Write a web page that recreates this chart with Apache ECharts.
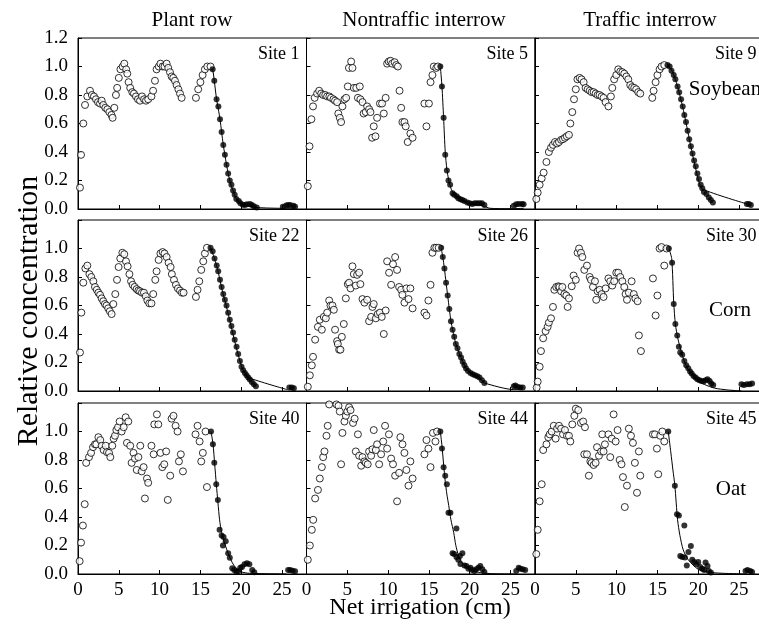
<!DOCTYPE html>
<html>
<head>
<meta charset="utf-8">
<script src="https://cdn.jsdelivr.net/npm/echarts@6/dist/echarts.min.js"></script>
<style>html,body{margin:0;padding:0;background:#fff;}#c{width:759px;height:631px;}</style>
</head>
<body>
<div id="c"></div>
<script>
// ---------- DATA ----------
const columnTitles = ['Plant row', 'Nontraffic interrow', 'Traffic interrow'];
const cropLabels = ['Soybean', 'Corn', 'Oat'];
const siteNames = ['Site 1','Site 5','Site 9','Site 22','Site 26','Site 30','Site 40','Site 44','Site 45'];
const xTicks = [0, 5, 10, 15, 20, 25];
const yTicks = [0.0, 0.2, 0.4, 0.6, 0.8, 1.0, 1.2];

const site1Open = [[0.24,0.15],[0.37,0.38],[0.65,0.60],[0.86,0.73],[1.14,0.79],[1.47,0.83],[1.7,0.80],[1.96,0.79],[2.2,0.77],[2.45,0.75],[2.7,0.74],[2.9,0.76],[3.1,0.73],[3.35,0.71],[3.6,0.70],[3.84,0.68],[4.1,0.66],[4.24,0.64],[4.45,0.71],[4.65,0.80],[4.8,0.85],[5.0,0.92],[5.2,0.98],[5.47,1.0],[5.67,1.02],[5.9,0.98],[6.04,0.95],[6.2,0.89],[6.4,0.85],[6.65,0.82],[6.86,0.81],[7.1,0.79],[7.35,0.77],[7.6,0.76],[7.84,0.79],[8.1,0.77],[8.33,0.76],[8.6,0.77],[9.0,0.79],[9.2,0.83],[9.43,0.90],[9.63,0.98],[9.9,1.0],[10.1,1.02],[10.37,1.0],[10.6,1.0],[10.86,1.02],[11.06,0.99],[11.27,0.96],[11.47,0.93],[11.67,0.92],[11.88,0.90],[12.08,0.87],[12.3,0.84],[12.5,0.81],[12.7,0.78],[14.45,0.78],[14.73,0.84],[15.0,0.89],[15.27,0.94],[15.55,0.98],[15.84,1.0],[16.24,1.0]];
const site1Filled = [[16.5,0.98],[16.7,0.90],[16.98,0.77],[17.2,0.72],[17.4,0.63],[17.6,0.54],[17.8,0.45],[18.0,0.38],[18.2,0.31],[18.4,0.25],[18.6,0.20],[18.8,0.17],[19.0,0.13],[19.2,0.10],[19.4,0.07],[19.7,0.056],[19.9,0.04],[20.2,0.03],[20.45,0.028],[20.7,0.033],[21.06,0.035],[21.3,0.028],[21.55,0.02],[21.9,0.01],[25.1,0.016],[25.5,0.025],[25.75,0.028],[26.0,0.028],[26.4,0.023],[26.6,0.016]];
const site1Fit = [[16.3,1.0],[16.5,0.98],[16.7,0.90],[16.98,0.77],[17.2,0.70],[17.4,0.63],[17.6,0.54],[17.8,0.45],[18.0,0.38],[18.2,0.31],[18.4,0.25],[18.6,0.20],[18.8,0.16],[19.0,0.13],[19.2,0.10],[19.4,0.07],[19.7,0.05],[20.2,0.03],[21.0,0.02],[22.0,0.01],[25.0,0.005],[26.6,0.005]];

const site5Open = [[0.16,0.16],[0.37,0.44],[0.6,0.63],[0.8,0.72],[1.0,0.78],[1.3,0.81],[1.55,0.83],[1.8,0.81],[2.04,0.80],[2.3,0.80],[2.53,0.79],[2.8,0.79],[3.0,0.78],[3.3,0.77],[3.5,0.76],[3.75,0.75],[3.9,0.67],[4.08,0.64],[4.24,0.61],[4.4,0.72],[4.65,0.77],[4.86,0.78],[5.06,0.86],[5.2,0.99],[5.47,1.035],[5.63,0.99],[5.8,0.85],[6.1,0.85],[6.3,0.78],[6.53,0.86],[6.6,0.77],[6.86,0.75],[7.0,0.67],[7.26,0.68],[7.43,0.72],[7.67,0.70],[7.84,0.68],[8.04,0.50],[8.24,0.58],[8.45,0.51],[8.65,0.64],[9.0,0.74],[9.26,0.74],[9.47,0.67],[9.7,0.78],[9.88,1.02],[10.08,1.035],[10.3,1.04],[10.5,1.02],[10.8,1.03],[11.0,1.01],[11.2,1.0],[11.4,0.83],[11.6,0.71],[11.75,0.61],[12.0,0.61],[12.16,0.58],[12.4,0.47],[12.73,0.53],[13.0,0.50],[14.45,0.74],[14.7,0.58],[15.0,0.74],[15.2,0.89],[15.43,0.94],[15.6,1.0],[15.9,0.99],[16.1,1.0]];
const site5Filled = [[16.4,1.0],[16.6,0.86],[16.8,0.64],[17.0,0.38],[17.2,0.27],[17.4,0.20],[17.6,0.17],[17.9,0.11],[18.1,0.10],[18.4,0.09],[18.6,0.075],[18.86,0.068],[19.1,0.063],[19.35,0.056],[19.7,0.045],[20.0,0.04],[20.3,0.035],[20.6,0.04],[20.9,0.04],[21.2,0.04],[21.5,0.04],[21.8,0.028],[25.4,0.023],[25.7,0.033],[26.0,0.035],[26.4,0.035],[26.6,0.033]];
const site5Fit = [[16.4,1.0],[16.6,0.86],[16.8,0.64],[17.0,0.40],[17.2,0.28],[17.4,0.21],[17.6,0.16],[17.9,0.12],[18.4,0.09],[18.9,0.07],[19.5,0.05],[20.3,0.035],[21.5,0.025],[22.5,0.005],[25.0,0.002],[26.6,0.005]];

const site9Open = [[0.16,0.07],[0.33,0.115],[0.57,0.17],[0.82,0.215],[1.06,0.255],[1.4,0.33],[1.7,0.40],[1.96,0.43],[2.2,0.45],[2.45,0.47],[2.7,0.46],[2.94,0.47],[3.2,0.485],[3.43,0.49],[3.67,0.50],[3.9,0.51],[4.16,0.52],[4.33,0.60],[4.57,0.68],[4.78,0.77],[5.0,0.84],[5.2,0.91],[5.47,0.92],[5.7,0.91],[5.96,0.89],[6.2,0.85],[6.45,0.84],[6.7,0.83],[6.94,0.82],[7.18,0.82],[7.43,0.81],[7.67,0.80],[7.9,0.80],[8.16,0.79],[8.4,0.78],[8.65,0.75],[9.0,0.72],[9.3,0.79],[9.47,0.85],[9.7,0.91],[9.96,0.94],[10.2,0.98],[10.45,0.965],[10.7,0.96],[10.94,0.95],[11.2,0.93],[11.43,0.91],[11.67,0.87],[11.9,0.855],[12.16,0.85],[12.4,0.84],[12.65,0.82],[12.9,0.81],[14.37,0.78],[14.53,0.83],[14.78,0.89],[15.0,0.94],[15.27,0.98],[15.5,1.0],[15.84,1.01]];
const site9Filled = [[16.24,1.01],[16.5,1.0],[16.73,0.97],[17.0,0.94],[17.2,0.91],[17.47,0.86],[17.67,0.82],[17.9,0.77],[18.1,0.72],[18.3,0.66],[18.5,0.61],[18.7,0.55],[18.9,0.49],[19.1,0.44],[19.3,0.39],[19.5,0.34],[19.7,0.30],[19.9,0.25],[20.1,0.21],[20.3,0.17],[20.5,0.145],[20.7,0.12],[21.0,0.105],[21.3,0.08],[21.55,0.063],[21.8,0.045],[25.96,0.035],[26.2,0.035],[26.45,0.028]];
const site9Fit = [[16.24,1.01],[16.7,0.98],[17.2,0.91],[17.7,0.81],[18.2,0.69],[18.7,0.55],[19.2,0.41],[19.7,0.28],[20.1,0.19],[20.5,0.14],[26.0,0.035]];

const site22Open = [[0.24,0.27],[0.41,0.55],[0.65,0.76],[0.9,0.86],[1.14,0.88],[1.4,0.82],[1.63,0.80],[1.88,0.77],[2.08,0.73],[2.3,0.71],[2.5,0.69],[2.7,0.675],[2.9,0.65],[3.1,0.63],[3.3,0.61],[3.5,0.60],[3.7,0.58],[3.9,0.56],[4.12,0.54],[4.33,0.61],[4.57,0.68],[4.78,0.78],[4.98,0.87],[5.18,0.93],[5.43,0.97],[5.67,0.96],[5.88,0.91],[6.08,0.875],[6.3,0.82],[6.5,0.77],[6.7,0.745],[6.94,0.73],[7.18,0.715],[7.4,0.705],[7.6,0.70],[7.84,0.69],[8.08,0.69],[8.3,0.665],[8.5,0.635],[8.73,0.615],[9.0,0.615],[9.22,0.68],[9.47,0.78],[9.63,0.84],[9.88,0.92],[10.1,0.965],[10.37,0.975],[10.6,0.965],[10.86,0.94],[11.1,0.90],[11.35,0.87],[11.5,0.82],[11.76,0.78],[12.0,0.745],[12.24,0.72],[12.5,0.705],[12.73,0.69],[12.94,0.69],[14.45,0.66],[14.65,0.71],[14.86,0.77],[15.1,0.85],[15.35,0.91],[15.55,0.965],[15.8,1.005]];
const site22Filled = [[16.24,1.005],[16.5,0.98],[16.73,0.93],[17.0,0.88],[17.18,0.84],[17.4,0.78],[17.6,0.73],[17.8,0.68],[18.0,0.64],[18.2,0.60],[18.4,0.55],[18.6,0.50],[18.8,0.456],[19.0,0.41],[19.2,0.36],[19.43,0.31],[19.63,0.26],[19.84,0.21],[20.04,0.17],[20.24,0.146],[20.45,0.127],[20.65,0.11],[20.86,0.094],[21.06,0.08],[21.3,0.064],[21.55,0.047],[21.8,0.033],[25.9,0.024],[26.2,0.024],[26.45,0.02]];
const site22Fit = [[16.24,1.005],[16.73,0.93],[17.2,0.83],[17.7,0.70],[18.2,0.59],[18.7,0.47],[19.2,0.35],[19.7,0.24],[20.1,0.165],[20.5,0.12],[20.86,0.094],[25.6,0.01]];

const site26Open = [[0.16,0.03],[0.41,0.11],[0.65,0.18],[0.8,0.24],[1.06,0.36],[1.4,0.45],[1.63,0.50],[1.88,0.43],[2.12,0.52],[2.37,0.51],[2.53,0.55],[2.78,0.635],[2.94,0.60],[3.18,0.60],[3.35,0.57],[3.5,0.43],[3.75,0.35],[3.84,0.33],[4.0,0.29],[4.16,0.29],[4.33,0.38],[4.57,0.47],[4.82,0.65],[5.06,0.75],[5.22,0.76],[5.4,0.72],[5.63,0.875],[5.8,0.82],[6.04,0.74],[6.2,0.815],[6.45,0.83],[6.6,0.75],[6.86,0.645],[7.1,0.62],[7.43,0.64],[7.67,0.49],[7.92,0.52],[8.08,0.59],[8.24,0.61],[8.5,0.51],[8.73,0.54],[9.0,0.55],[9.22,0.52],[9.47,0.40],[9.7,0.565],[9.88,0.91],[10.12,0.83],[10.37,0.745],[10.6,0.89],[10.86,0.94],[11.1,0.85],[11.35,0.73],[11.6,0.71],[11.75,0.675],[12.0,0.62],[12.24,0.72],[12.5,0.645],[12.73,0.72],[13.0,0.58],[14.45,0.55],[14.7,0.53],[14.94,0.635],[15.2,0.745],[15.43,0.97],[15.67,1.005],[15.9,1.005],[16.2,1.005]];
const site26Filled = [[16.5,1.005],[16.7,0.94],[16.9,0.86],[17.1,0.76],[17.3,0.67],[17.5,0.575],[17.7,0.49],[17.9,0.43],[18.1,0.38],[18.3,0.33],[18.5,0.30],[18.73,0.26],[18.94,0.235],[19.14,0.205],[19.35,0.18],[19.55,0.158],[19.8,0.14],[20.1,0.127],[20.37,0.118],[20.65,0.11],[20.94,0.104],[21.2,0.094],[21.5,0.075],[21.8,0.056],[25.4,0.033],[25.6,0.038],[25.9,0.028],[26.2,0.024],[26.5,0.024]];
const site26Fit = [[16.5,1.005],[16.7,0.94],[16.9,0.86],[17.1,0.76],[17.3,0.67],[17.5,0.575],[17.7,0.49],[17.9,0.43],[18.1,0.38],[18.3,0.33],[18.5,0.30],[18.73,0.26],[18.94,0.235],[19.14,0.205],[19.35,0.18],[19.55,0.158],[19.8,0.14],[20.1,0.127],[20.4,0.117],[20.9,0.104],[21.2,0.094],[21.5,0.075],[21.8,0.056],[25.4,0.01],[26.5,0.02]];

const site30Open = [[0.2,0.024],[0.33,0.066],[0.57,0.17],[0.73,0.28],[1.0,0.37],[1.3,0.42],[1.55,0.45],[1.7,0.48],[1.96,0.51],[2.2,0.59],[2.37,0.71],[2.6,0.73],[2.86,0.735],[3.0,0.73],[3.2,0.70],[3.35,0.73],[3.6,0.68],[3.84,0.67],[4.0,0.59],[4.16,0.65],[4.5,0.735],[4.73,0.81],[5.0,0.78],[5.22,0.97],[5.4,1.0],[5.63,0.97],[5.8,0.94],[6.04,0.85],[6.37,0.88],[6.7,0.80],[6.86,0.78],[7.1,0.73],[7.35,0.77],[7.5,0.64],[7.67,0.70],[7.92,0.71],[8.16,0.68],[8.4,0.66],[8.65,0.72],[9.0,0.79],[9.22,0.77],[9.47,0.74],[9.7,0.77],[9.96,0.83],[10.2,0.83],[10.45,0.80],[10.7,0.77],[10.94,0.73],[11.1,0.68],[11.27,0.64],[11.5,0.69],[11.84,0.77],[12.1,0.68],[12.3,0.65],[12.57,0.63],[12.73,0.39],[12.98,0.28],[14.45,0.79],[14.78,0.53],[15.0,0.67],[15.27,1.0],[15.5,1.01],[15.84,0.88],[16.12,1.0]];
const site30Filled = [[16.4,1.0],[16.8,0.90],[17.0,0.61],[17.2,0.47],[17.43,0.39],[17.63,0.31],[17.8,0.27],[18.04,0.255],[18.3,0.21],[18.53,0.18],[18.78,0.16],[19.0,0.137],[19.2,0.123],[19.43,0.106],[19.67,0.094],[19.9,0.083],[20.16,0.075],[20.4,0.07],[20.65,0.066],[20.9,0.075],[21.14,0.083],[21.4,0.07],[21.6,0.052],[21.84,0.042],[25.3,0.047],[25.6,0.042],[25.96,0.047],[26.3,0.047],[26.6,0.052]];
const site30Fit = [[16.4,1.0],[16.75,0.93],[17.0,0.62],[17.2,0.47],[17.5,0.37],[18.0,0.26],[18.5,0.18],[19.0,0.13],[19.5,0.095],[20.0,0.07],[20.8,0.045],[22.0,0.02],[23.5,0.008],[25.3,0.0]];

const site40Open = [[0.2,0.09],[0.37,0.22],[0.6,0.34],[0.82,0.49],[1.0,0.78],[1.35,0.82],[1.6,0.85],[1.84,0.89],[2.08,0.91],[2.24,0.91],[2.5,0.96],[2.73,0.94],[2.9,0.90],[3.14,0.87],[3.4,0.90],[3.55,0.855],[3.8,0.85],[3.96,0.82],[4.2,0.90],[4.37,0.95],[4.53,0.97],[4.7,1.01],[4.9,1.03],[5.1,1.07],[5.35,1.0],[5.6,1.03],[5.84,1.10],[6.16,1.07],[6.0,0.92],[6.4,0.90],[6.57,0.78],[6.8,0.85],[6.98,0.81],[7.2,0.73],[7.4,0.82],[7.63,0.90],[7.8,0.72],[8.04,0.75],[8.2,0.53],[8.45,0.67],[8.6,0.64],[9.0,0.90],[9.27,0.84],[9.35,1.05],[9.67,1.12],[9.84,1.05],[10.1,0.85],[10.33,0.75],[10.57,0.77],[10.8,0.86],[11.0,0.52],[11.3,0.69],[11.47,1.09],[11.7,1.11],[11.96,1.04],[12.2,1.0],[12.37,0.79],[12.6,0.84],[12.86,0.72],[14.4,0.98],[14.65,1.04],[14.9,0.93],[15.1,0.79],[15.3,0.85],[15.63,1.0],[15.8,0.61]];
const site40Filled = [[16.3,1.0],[16.53,0.91],[16.7,0.78],[16.94,0.63],[17.14,0.52],[17.35,0.31],[17.6,0.27],[17.84,0.26],[18.1,0.23],[17.76,0.20],[18.4,0.145],[18.6,0.114],[18.9,0.04],[19.14,0.028],[19.4,0.016],[19.63,0.02],[19.88,0.044],[20.1,0.05],[20.4,0.068],[20.7,0.075],[21.0,0.068],[21.35,0.028],[21.6,0.012],[25.75,0.028],[26.0,0.028],[26.3,0.023],[26.6,0.02]];
const site40Fit = [[16.3,1.0],[16.55,0.91],[16.75,0.77],[16.95,0.63],[17.15,0.50],[17.35,0.38],[17.6,0.29],[18.0,0.21],[18.5,0.13],[19.0,0.07],[19.5,0.035],[20.0,0.015],[21.0,0.005],[25.5,0.0]];

const site44Open = [[0.16,0.10],[0.41,0.20],[0.65,0.31],[0.82,0.38],[1.06,0.53],[1.4,0.59],[1.63,0.67],[1.88,0.75],[2.04,0.82],[2.2,0.86],[2.45,0.97],[2.6,1.04],[2.78,1.19],[3.67,1.19],[3.92,1.18],[4.08,1.14],[4.24,0.77],[4.4,0.99],[4.65,1.07],[4.82,1.11],[5.0,1.14],[5.22,1.17],[5.4,1.15],[5.7,1.06],[5.9,1.09],[6.04,0.86],[6.3,0.98],[6.45,0.83],[6.7,0.76],[6.86,0.82],[7.1,0.79],[7.26,0.78],[7.5,0.77],[7.67,0.86],[7.92,0.83],[8.08,0.875],[8.24,1.01],[8.5,0.87],[8.65,0.91],[8.9,0.77],[9.14,0.84],[9.4,0.93],[9.63,1.04],[9.88,0.88],[10.1,0.98],[10.37,0.81],[10.6,0.77],[10.86,0.69],[11.1,0.51],[11.35,0.71],[11.5,0.96],[11.76,0.91],[12.0,0.85],[12.24,0.73],[12.5,0.62],[12.73,0.79],[13.0,0.67],[14.45,0.84],[14.7,0.94],[14.94,0.88],[15.2,0.75],[15.5,0.99],[15.8,0.93],[16.0,1.0]];
const site44Filled = [[16.4,1.0],[16.6,0.88],[16.8,0.75],[17.0,0.69],[17.2,0.63],[17.4,0.43],[17.63,0.43],[18.37,0.32],[17.9,0.145],[18.1,0.14],[18.37,0.12],[18.6,0.10],[18.8,0.126],[18.86,0.07],[19.1,0.145],[19.35,0.06],[19.6,0.056],[19.84,0.037],[20.1,0.044],[20.3,0.028],[20.57,0.021],[20.8,0.033],[21.06,0.044],[21.3,0.056],[21.55,0.033],[21.8,0.014],[25.7,0.021],[26.0,0.044],[26.2,0.037],[26.5,0.033],[26.8,0.028]];
const site44Fit = [[16.4,1.0],[16.6,0.9],[16.8,0.77],[17.0,0.65],[17.2,0.56],[17.43,0.48],[17.7,0.38],[18.04,0.29],[18.3,0.2],[18.65,0.126],[19.1,0.075],[19.7,0.044],[20.3,0.02],[21.3,0.01],[22.5,0.003],[25.5,0.0]];

const site45Open = [[0.16,0.14],[0.33,0.31],[0.57,0.51],[0.82,0.63],[1.0,0.87],[1.4,0.91],[1.63,0.96],[1.8,0.98],[2.04,1.0],[2.3,1.04],[2.53,0.95],[2.7,1.02],[2.94,1.04],[3.2,1.02],[3.43,0.98],[3.67,1.01],[3.92,0.97],[4.16,0.97],[4.33,0.93],[4.57,1.05],[4.82,1.11],[5.0,1.16],[5.3,1.15],[5.63,1.06],[5.9,1.07],[6.12,1.03],[6.04,0.84],[6.37,0.84],[6.6,0.69],[6.78,0.79],[6.94,0.78],[7.18,0.765],[7.43,0.78],[7.6,0.89],[7.84,0.83],[8.1,0.86],[8.24,0.98],[8.4,0.86],[8.57,0.91],[9.0,0.98],[9.22,0.82],[9.4,0.95],[9.63,1.12],[9.88,0.93],[10.12,1.01],[10.37,0.80],[10.6,0.77],[10.78,0.68],[11.0,0.47],[11.27,0.62],[11.5,1.02],[11.76,0.97],[12.0,0.92],[12.24,0.78],[12.5,0.57],[12.73,0.86],[12.9,0.69],[14.45,0.98],[14.7,0.98],[14.94,0.88],[15.1,0.70],[15.35,0.97],[15.6,1.0],[15.84,0.93]];
const site45Filled = [[16.33,1.0],[17.14,0.62],[17.4,0.42],[17.63,0.41],[18.3,0.34],[17.8,0.126],[18.04,0.12],[18.37,0.115],[18.6,0.06],[18.8,0.154],[19.1,0.196],[19.27,0.10],[19.5,0.084],[19.76,0.068],[20.0,0.084],[20.24,0.05],[20.5,0.037],[20.73,0.028],[20.9,0.08],[21.14,0.056],[21.3,0.021],[21.55,0.01],[25.8,0.021],[26.04,0.028],[26.37,0.021],[26.6,0.014]];
const site45Fit = [[16.33,1.0],[16.65,0.85],[16.9,0.73],[17.14,0.62],[17.47,0.38],[17.76,0.27],[18.16,0.17],[18.78,0.10],[20.0,0.033],[21.6,0.01],[25.7,0.0]];

// ---------- CHART ----------
const FONT = '"Liberation Serif","Times New Roman",Times,serif';
const panels = [
  {open: site1Open, filled: site1Filled, fit: site1Fit},
  {open: site5Open, filled: site5Filled, fit: site5Fit},
  {open: site9Open, filled: site9Filled, fit: site9Fit},
  {open: site22Open, filled: site22Filled, fit: site22Fit},
  {open: site26Open, filled: site26Filled, fit: site26Fit},
  {open: site30Open, filled: site30Filled, fit: site30Fit},
  {open: site40Open, filled: site40Filled, fit: site40Fit},
  {open: site44Open, filled: site44Filled, fit: site44Fit},
  {open: site45Open, filled: site45Filled, fit: site45Fit}
];
const X_MAX = 28;
const colLeft = [78, 306.5, 535];
const colW = 228.5;
const colDrawW = [228.5, 228.5, 240];   // third column runs past the canvas edge
const rowTop = [38, 220, 403];
const rowH = 171;

const grids = [], xAxes = [], yAxes = [], series = [], graphics = [];
panels.forEach((p, i) => {
  const c = i % 3, r = Math.floor(i / 3);
  const w = colDrawW[c];
  grids.push({left: colLeft[c], top: rowTop[r], width: w, height: rowH,
    containLabel: false, outerBoundsMode: 'none',
    show: true, borderColor: '#000', borderWidth: 1, backgroundColor: 'transparent'});
  xAxes.push({type: 'value', gridIndex: i, min: 0, max: X_MAX * w / colW, interval: 5,
    axisLine: {show: true, onZero: false, lineStyle: {color: '#000', width: 1}},
    axisTick: {show: true, inside: true, length: 4, lineStyle: {color: '#000'}},
    splitLine: {show: false},
    axisLabel: {show: r === 2, color: '#000', fontSize: 19, fontFamily: FONT, margin: 7,
      formatter: v => xTicks.indexOf(v) >= 0 ? String(v) : ''}});
  yAxes.push({type: 'value', gridIndex: i, min: 0, max: 1.2, interval: 0.2,
    axisLine: {show: true, onZero: false, lineStyle: {color: '#000', width: 1}},
    axisTick: {show: true, inside: true, length: 4, lineStyle: {color: '#000'}},
    splitLine: {show: false},
    axisLabel: {show: c === 0, color: '#000', fontSize: 19, fontFamily: FONT, margin: 10,
      formatter: v => {
        const t = yTicks.find(k => Math.abs(k - v) < 1e-6);
        if (t === undefined) return '';
        if (r > 0 && t > 1.1) return '';
        return t.toFixed(1);
      }}});
  series.push({type: 'line', xAxisIndex: i, yAxisIndex: i, data: p.fit, showSymbol: false,
    smooth: 0.25, lineStyle: {color: '#000', width: 1}, z: 1, silent: true});
  series.push({type: 'scatter', xAxisIndex: i, yAxisIndex: i, data: p.open, symbol: 'circle',
    symbolSize: 7, itemStyle: {color: '#fff', borderColor: '#000', borderWidth: 1}, z: 2});
  series.push({type: 'scatter', xAxisIndex: i, yAxisIndex: i, data: p.filled, symbol: 'circle',
    symbolSize: 6, itemStyle: {color: '#000'}, z: 3});
  graphics.push({type: 'text', x: colLeft[c] + colW - 7, y: rowTop[r] + 16, z: 10,
    style: {text: siteNames[i], fill: '#000', fontSize: 18, fontFamily: FONT,
      align: 'right', textAlign: 'right', verticalAlign: 'middle', textVerticalAlign: 'middle'}});
});

const titleX = [192, 424, 650];
columnTitles.forEach((t, c) => {
  graphics.push({type: 'text', x: titleX[c], y: 20,
    style: {text: t, fill: '#000', fontSize: 21, fontFamily: FONT,
      align: 'center', textAlign: 'center', verticalAlign: 'middle', textVerticalAlign: 'middle'}});
});
const cropPos = [[725, 89], [730, 310], [731, 489]];
cropLabels.forEach((t, r) => {
  graphics.push({type: 'text', x: cropPos[r][0], y: cropPos[r][1], z: 10,
    style: {text: t, fill: '#000', fontSize: 21, fontFamily: FONT,
      align: 'center', textAlign: 'center', verticalAlign: 'middle', textVerticalAlign: 'middle'}});
});
graphics.push({type: 'text', x: 420, y: 608,
  style: {text: 'Net irrigation (cm)', fill: '#000', fontSize: 24, fontFamily: FONT,
    align: 'center', textAlign: 'center', verticalAlign: 'middle', textVerticalAlign: 'middle'}});
graphics.push({type: 'text', x: 29, y: 311, rotation: Math.PI / 2,
  style: {text: 'Relative concentration', fill: '#000', fontSize: 30, fontFamily: FONT,
    align: 'center', textAlign: 'center', verticalAlign: 'middle', textVerticalAlign: 'middle'}});

const chart = echarts.init(document.getElementById('c'), null, {renderer: 'canvas'});
chart.setOption({
  animation: false,
  backgroundColor: '#fff',
  grid: grids, xAxis: xAxes, yAxis: yAxes, series: series, graphic: graphics
});
</script>
</body>
</html>
